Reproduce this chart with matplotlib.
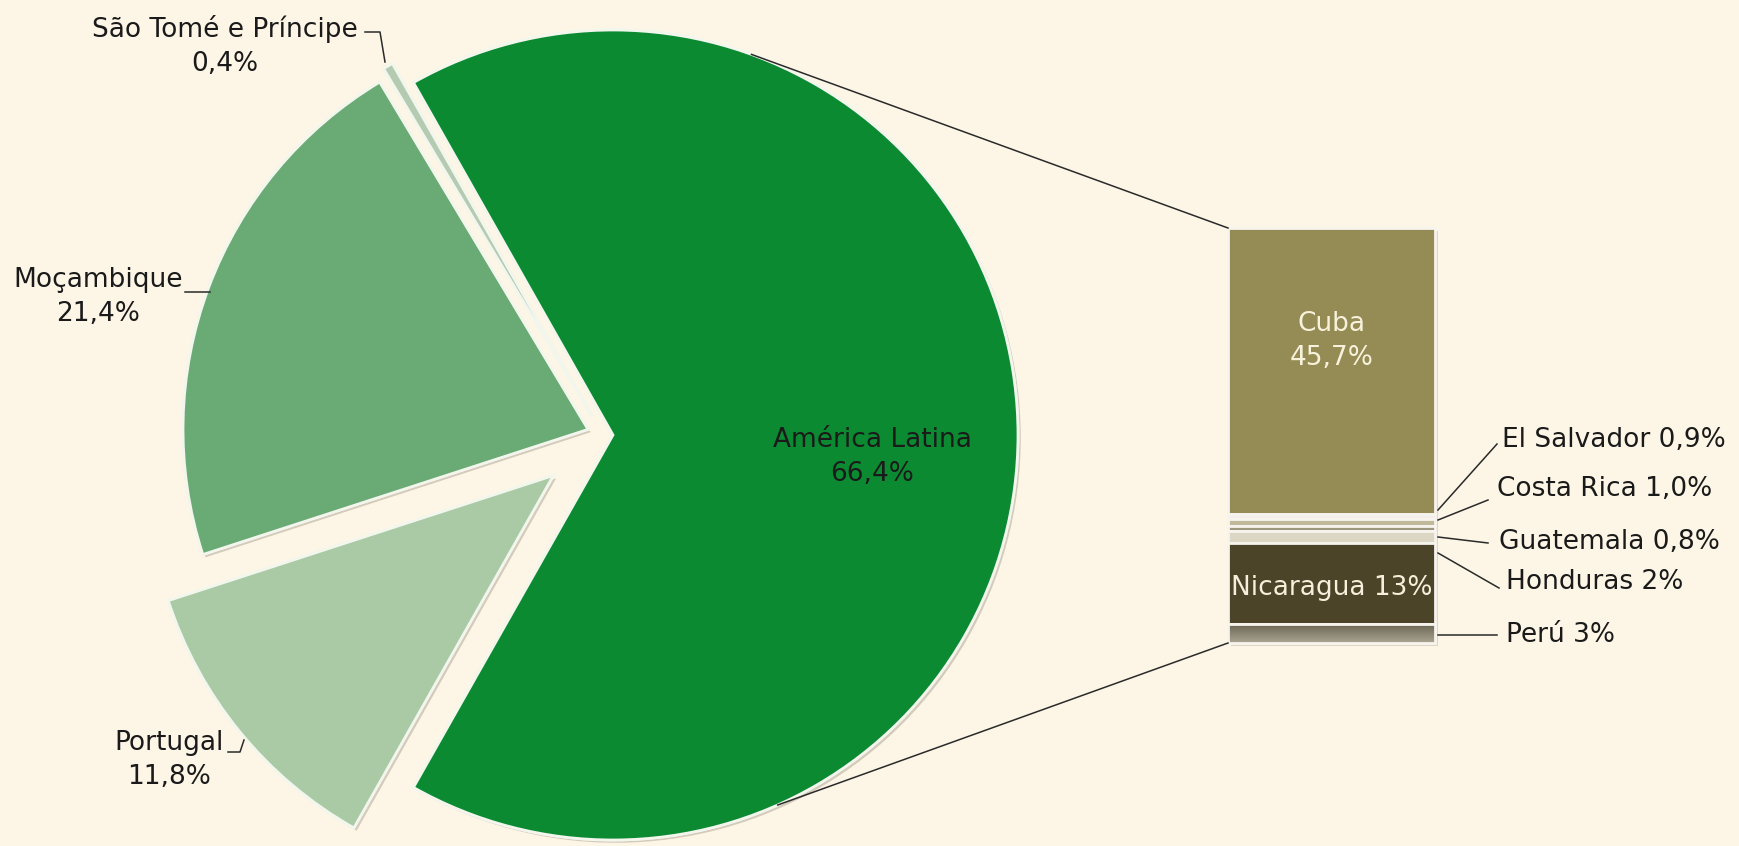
import numpy as np
import matplotlib
matplotlib.use('Agg')
import matplotlib.pyplot as plt
import matplotlib.patheffects as pe
from matplotlib.patches import Rectangle
from matplotlib.colors import LinearSegmentedColormap

# ---------------- data ----------------
pie_labels = ['América Latina', 'São Tomé e Príncipe', 'Moçambique', 'Portugal']
pie_values = [66.4, 0.4, 21.4, 11.8]

bar_labels = ['Cuba', 'El Salvador', 'Costa Rica', 'Guatemala', 'Honduras', 'Nicaragua', 'Perú']
bar_values = [45.7, 0.9, 1.0, 0.8, 2.0, 13.0, 3.0]
bar_value_text = ['45,7%', '0,9%', '1,0%', '0,8%', '2%', '13%', '3%']

# ---------------- style / layout ----------------
W, H = 1739, 846
BG = '#FDF6E6'
pie_colors = ['#0B8A32', '#B4CBB2', '#6AAA74', '#AACAA6']
bar_colors = ['#958B55', '#F3EEE8', '#BFB99A', '#9D987F', '#DCD7C5', '#4B4428', '#8A8472']
FS = 19
LS = 1.38


def Y(y):
    return H - y


def pct(v):
    return f"{v:.1f}".replace('.', ',') + '%'


fig = plt.figure(figsize=(W / 100, H / 100), dpi=100, facecolor=BG)
ax = fig.add_axes([0, 0, 1, 1])
ax.set_facecolor(BG)

# ---------------- pie ----------------
R = 405
center = (603, Y(435))
explode_px = [10, 22, 16, 64]
start = -pie_values[0] / sum(pie_values) * 180
shadow = [pe.withSimplePatchShadow(offset=(2, -2), shadow_rgbFace='#7a6a5a', alpha=0.3),
          pe.Normal()]
wedges, _ = ax.pie(pie_values, explode=explode_px, startangle=start, counterclock=True,
                   center=center, radius=R, colors=pie_colors,
                   wedgeprops=dict(edgecolor='#F2F6EC', linewidth=2))
for w in wedges:
    w.set_path_effects(shadow)

# ---------------- bar of pie ----------------
bx0, bx1 = 1228, 1435
btop = Y(228)
bh = 415
scale = bh / sum(bar_values)
heights = np.array(bar_values) * scale
bottoms = btop - np.cumsum(heights)

ax.add_patch(Rectangle((bx0 + 3, btop - bh - 3), bx1 - bx0, bh, facecolor='#5a4a3a',
                       alpha=0.18, edgecolor='none', zorder=0.5))
bars = ax.bar([(bx0 + bx1) / 2] * len(bar_values), heights, bottom=bottoms,
              width=bx1 - bx0, color=bar_colors, edgecolor='#F7F4EE', linewidth=2, zorder=2)

# gradient on the last segment (Perú)
p = bars[-1]
grad = np.linspace(0, 1, 64).reshape(-1, 1)
cmap = LinearSegmentedColormap.from_list('peru', ['#A9A492', '#6C6754'])
im = ax.imshow(grad, extent=(p.get_x(), p.get_x() + p.get_width(),
                             p.get_y(), p.get_y() + p.get_height()),
               origin='lower', cmap=cmap, aspect='auto', zorder=2.1)
im.set_clip_path(p)
ax.add_patch(Rectangle((p.get_x(), p.get_y()), p.get_width(), p.get_height(),
                       facecolor='none', edgecolor='#F7F4EE', linewidth=2, zorder=2.2))

# connector lines
cx, cy = wedges[0].center
for ang, yb in [(70, btop), (-66, btop - bh)]:
    a = np.deg2rad(ang)
    ax.plot([cx + R * np.cos(a), bx0], [cy + R * np.sin(a), yb], color='#2a2a2a', lw=1.1, zorder=3)

# ---------------- texts ----------------
ax.text(872, Y(457), f"{pie_labels[0]}\n{pct(pie_values[0])}", ha='center', va='center',
        fontsize=FS, color='#1A1A1A', linespacing=LS, zorder=5)
ax.text(225, Y(46), f"{pie_labels[1]}\n{pct(pie_values[1])}", ha='center', va='center',
        fontsize=FS, color='#1A1A1A', linespacing=LS, zorder=5)
ax.text(98, Y(297), f"{pie_labels[2]}\n{pct(pie_values[2])}", ha='center', va='center',
        fontsize=FS, color='#1A1A1A', linespacing=LS, zorder=5)
ax.text(169, Y(760), f"{pie_labels[3]}\n{pct(pie_values[3])}", ha='center', va='center',
        fontsize=FS, color='#1A1A1A', linespacing=LS, zorder=5)

# pie leader lines
ax.plot([365, 380, 385], [Y(32), Y(32), Y(62)], color='#2a2a2a', lw=1.1, zorder=4)
ax.plot([185, 210], [Y(292), Y(292)], color='#2a2a2a', lw=1.1, zorder=4)
ax.plot([228, 240, 244], [Y(752), Y(752), Y(740)], color='#2a2a2a', lw=1.1, zorder=4)

# inside bar labels
xc = (bx0 + bx1) / 2
ax.text(xc, Y(341), f"{bar_labels[0]}\n{bar_value_text[0]}", ha='center', va='center',
        fontsize=FS, color='#F8F2DC', linespacing=LS, zorder=5)
ax.text(xc, Y(588), f"{bar_labels[5]} {bar_value_text[5]}", ha='center', va='center',
        fontsize=FS, color='#F5EFDC', zorder=5)

# outside bar labels with leaders
outside = [1, 2, 3, 4, 6]
text_pos = [(1502, 440), (1497, 489), (1499, 542), (1506, 582), (1506, 635)]
lead_start = [(1438, 510), (1438, 520), (1438, 537), (1438, 553), (1438, 635)]
lead_end = [(1497, 444), (1488, 500), (1488, 543), (1499, 588), (1497, 635)]
for i, (tp, ls, le) in zip(outside, zip(text_pos, lead_start, lead_end)):
    ax.text(tp[0], Y(tp[1]), f"{bar_labels[i]} {bar_value_text[i]}", ha='left', va='center',
            fontsize=FS, color='#1A1A1A', zorder=5)
    ax.plot([ls[0], le[0]], [Y(ls[1]), Y(le[1])], color='#2a2a2a', lw=1.1, zorder=4)

ax.set_xlim(0, W)
ax.set_ylim(0, H)
ax.set_aspect('auto')
ax.axis('off')

fig.savefig('out.png', dpi=100, facecolor=BG)
